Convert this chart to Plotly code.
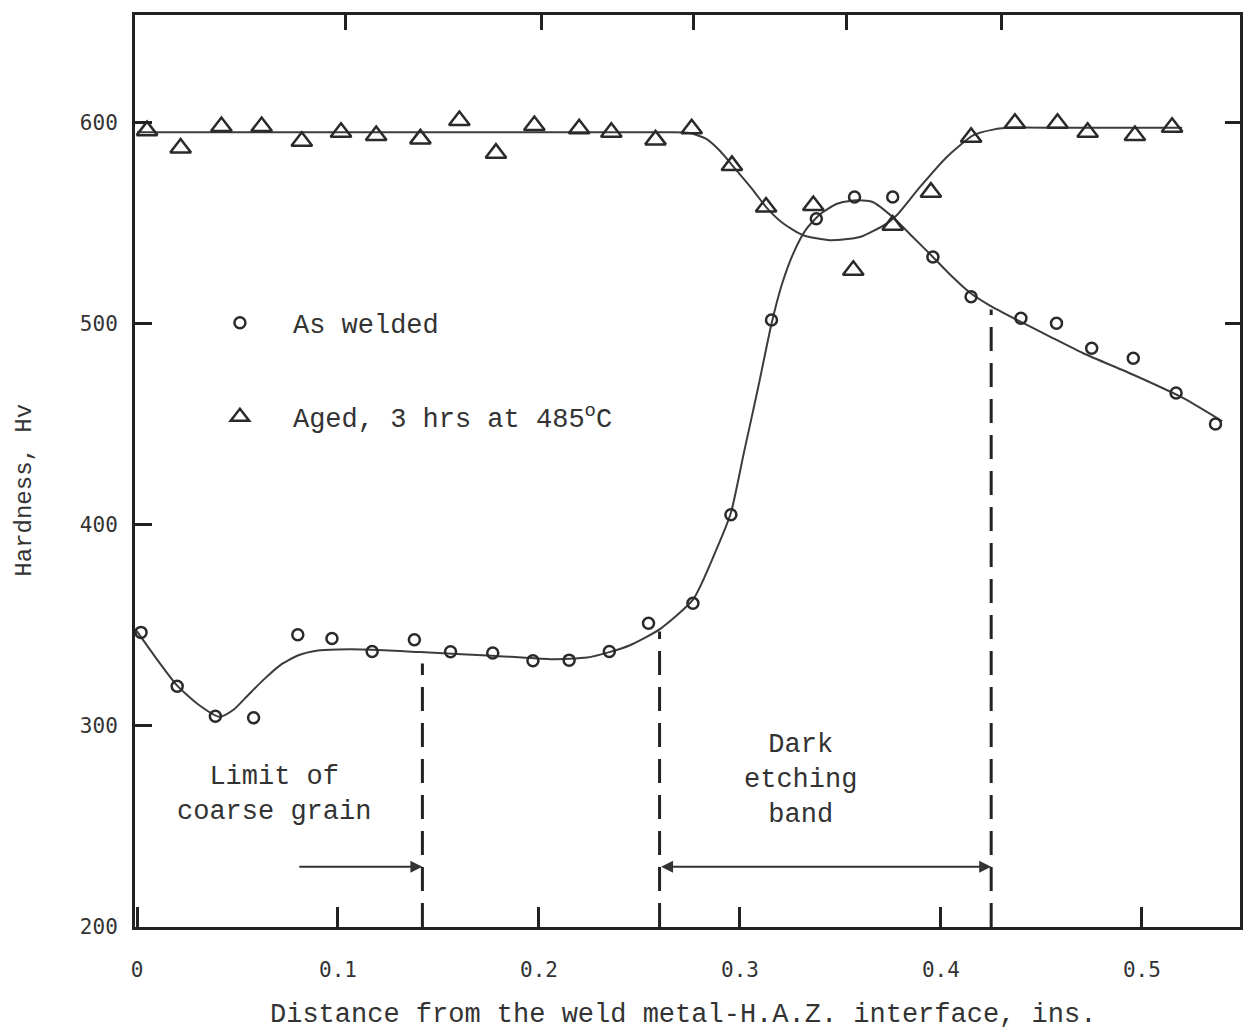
import plotly.graph_objects as go

# ---- measured points ----
welded_x = [0.002, 0.020, 0.039, 0.058, 0.080, 0.097, 0.117, 0.138, 0.156, 0.177, 0.197, 0.215,
            0.235, 0.2545, 0.2766, 0.2955, 0.3157, 0.338, 0.357, 0.376, 0.396, 0.415, 0.4398,
            0.4575, 0.475, 0.4957, 0.517, 0.5366]
welded_y = [346.5, 319.7, 304.8, 304.0, 345.3, 343.5, 337.0, 342.8, 336.9, 336.2, 332.4, 332.7,
            337.0, 351.0, 361.0, 405.0, 501.8, 552.2, 563.0, 563.0, 533.2, 513.4, 502.7,
            500.2, 487.8, 482.8, 465.5, 450.1]

aged_x = [0.005, 0.0217, 0.042, 0.062, 0.082, 0.1015, 0.119, 0.141, 0.1604, 0.1786, 0.1977, 0.220,
          0.236, 0.258, 0.276, 0.296, 0.313, 0.3365, 0.3564, 0.376, 0.395, 0.415, 0.4368,
          0.458, 0.473, 0.4965, 0.515]
aged_y = [596.0, 587.4, 598.0, 598.0, 590.7, 595.2, 593.6, 591.9, 601.0, 584.8, 598.5, 596.9,
          595.2, 591.4, 596.9, 578.7, 558.0, 558.8, 526.6, 549.0, 565.4, 592.7, 599.7,
          599.7, 595.2, 593.6, 597.7]

# ---- hand-drawn fitted curves ----
welded_fit_x = [0.000, 0.010, 0.020, 0.030, 0.041, 0.048, 0.055, 0.063, 0.071, 0.080, 0.090,
                0.100, 0.117, 0.141, 0.177, 0.2055, 0.224, 0.235, 0.245, 0.260, 0.2768, 0.2884,
                0.2955, 0.302, 0.309, 0.3157, 0.321, 0.327, 0.333, 0.340, 0.348, 0.3564,
                0.366, 0.376, 0.386, 0.396, 0.4045, 0.415, 0.4244, 0.4376, 0.4542, 0.4708,
                0.4957, 0.5206, 0.540]
welded_fit_y = [347.0, 333.0, 320.0, 311.0, 304.5, 308.0, 315.0, 323.0, 330.0, 335.0, 337.5,
                338.0, 337.9, 336.7, 334.9, 333.2, 334.0, 336.7, 340.0, 348.0, 363.0, 388.0,
                406.0, 436.0, 468.0, 500.0, 520.0, 536.0, 547.0, 554.5, 559.5, 561.3,
                560.5, 553.0, 543.1, 533.2, 524.5, 515.0, 509.0, 502.0, 493.6, 485.3,
                474.6, 463.0, 451.5]

aged_fit_x = [0.000, 0.050, 0.100, 0.150, 0.200, 0.250, 0.265, 0.275, 0.283, 0.290, 0.2983, 0.3066,
              0.313, 0.3216, 0.3315, 0.3448, 0.3597, 0.373, 0.378, 0.3896, 0.4028, 0.416, 0.426,
              0.436, 0.460, 0.490, 0.520]
aged_fit_y = [595.2, 595.2, 595.2, 595.2, 595.2, 595.2, 595.2, 594.8, 592.0, 586.0, 576.2, 566.3,
              558.0, 549.8, 544.0, 541.5, 543.1, 549.8, 553.9, 568.0, 582.8, 593.6, 596.5,
              597.5, 597.4, 597.4, 597.4]

# ---- zone boundaries (dashed lines) ----
band_x = [0.142, 0.260, 0.425]
band_top = [331.0, 347.0, 507.0]
band_bottom = 200.0

x_ticks = [0, 0.1, 0.2, 0.3, 0.4, 0.5]
x_ticktext = ["0", "0.1", "0.2", "0.3", "0.4", "0.5"]
y_ticks = [200, 300, 400, 500, 600]
top_ticks = [0.1035, 0.2015, 0.277, 0.3532, 0.4303]
right_ticks = [500, 600]

INK = "#333333"
LINE = "#3c3c3c"
MONO = "Liberation Mono"

fig = go.Figure()

fig.add_trace(go.Scatter(x=welded_fit_x, y=welded_fit_y, mode="lines",
                         line=dict(color=LINE, width=2, shape="spline", smoothing=0.6),
                         showlegend=False, hoverinfo="skip"))
fig.add_trace(go.Scatter(x=aged_fit_x, y=aged_fit_y, mode="lines",
                         line=dict(color=LINE, width=2, shape="spline", smoothing=0.6),
                         showlegend=False, hoverinfo="skip"))

for bx, bt in zip(band_x, band_top):
    fig.add_trace(go.Scatter(x=[bx, bx], y=[band_bottom, bt], mode="lines",
                             line=dict(color="#222222", width=3, dash="24px,12px"),
                             showlegend=False, hoverinfo="skip"))

fig.add_trace(go.Scatter(x=welded_x, y=welded_y, mode="markers", name="As welded",
                         legendgroup="a",
                         marker=dict(symbol="circle-open", size=11, color="#2a2a2a",
                                     line=dict(width=2.5, color="#2a2a2a"))))
fig.add_trace(go.Scatter(x=aged_x, y=aged_y, mode="markers",
                         name="Aged, 3 hrs at 485<sup>o</sup>C", legendgroup="b",
                         marker=dict(symbol="triangle-up-open", size=18, color="#2a2a2a",
                                     line=dict(width=2.5, color="#2a2a2a"))))

# dummy trace for the top/right decorative tick axes
fig.add_trace(go.Scatter(x=[None], y=[None], xaxis="x2", yaxis="y2", showlegend=False,
                         hoverinfo="skip"))

# text labels
fig.add_annotation(x=0.068, y=266, xref="x", yref="y", text="Limit of<br>coarse grain",
                   showarrow=False, xanchor="center", yanchor="middle",
                   font=dict(family=MONO, size=27, color=INK))
fig.add_annotation(x=0.33, y=273, xref="x", yref="y", text="Dark<br>etching<br>band",
                   showarrow=False, xanchor="center", yanchor="middle",
                   font=dict(family=MONO, size=27, color=INK))

# arrows
fig.add_annotation(x=band_x[0], y=230, ax=0.080, ay=230, xref="x", yref="y", axref="x", ayref="y",
                   text="", showarrow=True, arrowhead=2, arrowsize=1.2, arrowwidth=2,
                   arrowcolor=INK)
fig.add_annotation(x=band_x[2], y=230, ax=band_x[1], ay=230, xref="x", yref="y", axref="x",
                   ayref="y", text="", showarrow=True, arrowhead=2, startarrowhead=2,
                   arrowside="end+start", arrowsize=1.2, startarrowsize=1.2, arrowwidth=2,
                   arrowcolor=INK)

# axis titles
fig.add_annotation(x=-0.0995, y=417, xref="paper", yref="y", text="Hardness, Hv", textangle=-90,
                   showarrow=False, xanchor="center", yanchor="middle",
                   font=dict(family=MONO, size=24, color=INK))
fig.add_annotation(x=0.496, y=-0.0965, xref="paper", yref="paper",
                   text="Distance from the weld metal-H.A.Z. interface, ins.",
                   showarrow=False, xanchor="center", yanchor="middle",
                   font=dict(family=MONO, size=27, color=INK))

fig.update_layout(
    width=1243, height=1026,
    margin=dict(l=127, r=11, t=7, b=107, autoexpand=False),
    paper_bgcolor="white", plot_bgcolor="white",
    xaxis=dict(range=[-0.001, 0.5488], tickvals=x_ticks, ticktext=x_ticktext,
               ticks="inside", ticklen=20, tickwidth=2.5, tickcolor="#222222",
               showline=True, linewidth=3, linecolor="#222222", mirror=True,
               showgrid=False, zeroline=False, ticklabelstandoff=22, automargin=False,
               tickfont=dict(family="DejaVu Sans Mono", size=21, color=INK)),
    yaxis=dict(range=[200, 653.5], tickvals=y_ticks,
               ticks="inside", ticklen=17, tickwidth=2.5, tickcolor="#222222",
               showline=True, linewidth=3, linecolor="#222222", mirror=True,
               showgrid=False, zeroline=False, ticklabelstandoff=10, automargin=False,
               tickfont=dict(family="DejaVu Sans Mono", size=21, color=INK)),
    xaxis2=dict(overlaying="x", side="top", range=[-0.001, 0.5488], tickvals=top_ticks,
                ticks="inside", ticklen=15, tickwidth=2.5, tickcolor="#222222",
                showticklabels=False, showline=False, showgrid=False, zeroline=False),
    yaxis2=dict(overlaying="y", side="right", range=[200, 653.5], tickvals=right_ticks,
                ticks="inside", ticklen=15, tickwidth=2.5, tickcolor="#222222",
                showticklabels=False, showline=False, showgrid=False, zeroline=False),
    legend=dict(x=0.047, y=0.689, xanchor="left", yanchor="top", bgcolor="rgba(0,0,0,0)",
                font=dict(family=MONO, size=27, color=INK), itemwidth=96,
                tracegroupgap=56, traceorder="grouped"),
    showlegend=True,
)

fig.write_html("out.html")
